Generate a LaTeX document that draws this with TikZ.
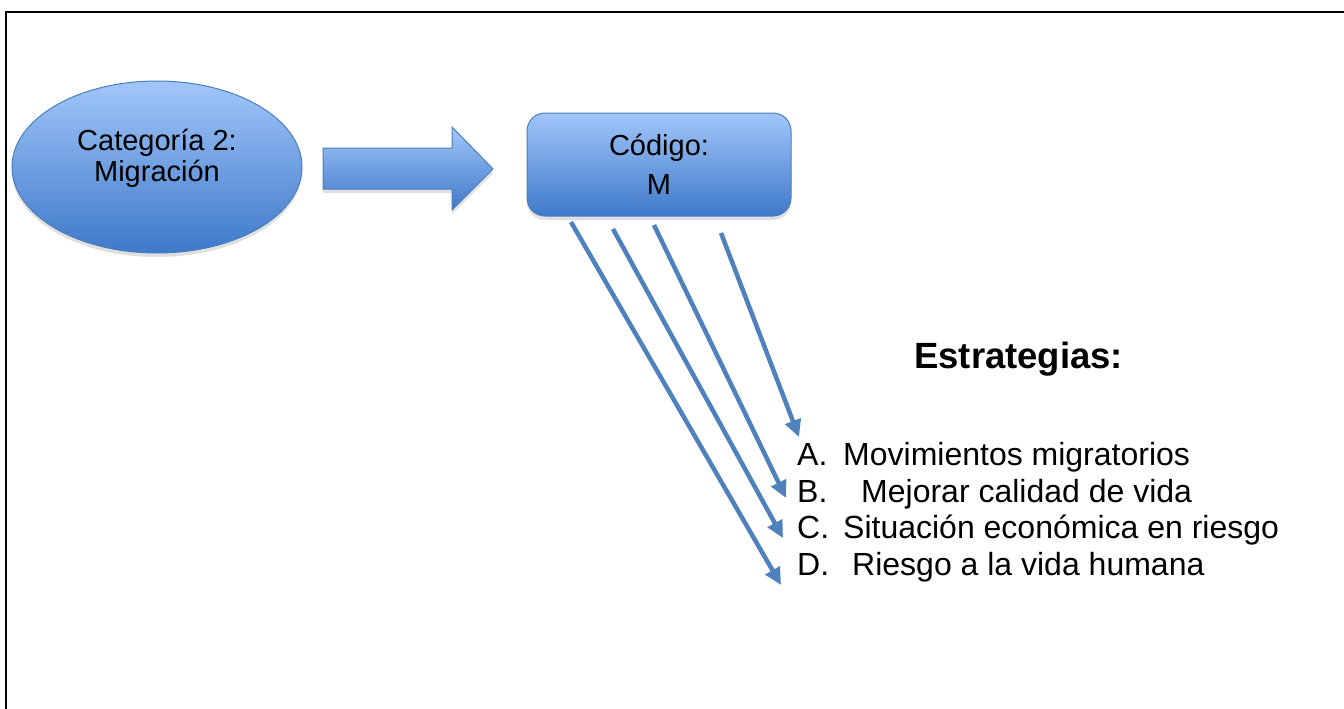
\documentclass[tikz,border=0pt]{standalone}
\usepackage{fontspec}
\setmainfont{Liberation Sans}
\usetikzlibrary{arrows.meta,shadows,shapes.geometric}
\definecolor{blueTop}{HTML}{A2C6FA}
\definecolor{blueBot}{HTML}{3E79C9}
\definecolor{blueEdge}{HTML}{4A7EBB}
\definecolor{lineBlue}{HTML}{4F81BD}
\tikzset{
  gradfill/.style={draw=blueEdge, line width=1pt, top color=blueTop, bottom color=blueBot,
    drop shadow={opacity=0.25, shadow xshift=0pt, shadow yshift=-4pt}},
  conn/.style={draw=lineBlue, line width=4.5pt,
    -{Triangle[length=17pt,width=16pt]}},
  lbl/.style={anchor=base west, inner sep=0pt, font=\fontsize{32}{37}\selectfont},
}
\begin{document}
\begin{tikzpicture}[x=1pt,y=-1pt]
\useasboundingbox (0,0) rectangle (1344,709);
\fill[white] (0,0) rectangle (1344,709);
% frame (top and left edges)
\draw[line width=2.2pt] (6,709) -- (6,12) -- (1344,12);
% ellipse
\node[ellipse, gradfill, minimum width=290pt, minimum height=172pt, inner sep=0pt] (cat) at (157,167) {};
\node[font=\fontsize{29}{31}\selectfont, align=center, inner sep=0pt] (cattxt) at ([yshift=9pt]cat.center) {Categoría 2:\\Migración};
% block arrow
\path[gradfill] (323,148) -- (452,148) -- (452,127) -- (493,169) -- (452,210) -- (452,189) -- (323,189) -- cycle;
\coordinate (barrow) at (408,169);
% code box
\node[gradfill, rounded corners=18pt, minimum width=264pt, minimum height=103pt, inner sep=0pt,
  font=\fontsize{29}{39}\selectfont, align=center] (code) at (659,164.5) {Código:\\M};
% strategies title
\node[anchor=base west, inner sep=0pt, font=\fontsize{36.5}{40}\selectfont\bfseries] (title) at (914,368) {Estrategias:};
% list
\node[lbl] (la) at (797,465) {A.};
\node[lbl] (ta) at (843,465) {Movimientos migratorios};
\node[lbl] (lb) at (797,502) {B.};
\node[lbl] (tb) at (861,502) {Mejorar calidad de vida};
\node[lbl] (lc) at (797,538) {C.};
\node[lbl] (tc) at (843,538) {Situación económica en riesgo};
\node[lbl] (ld) at (797,575) {D.};
\node[lbl] (td) at (852,575) {Riesgo a la vida humana};
% connector endpoints
\coordinate (sa) at (721,233); \coordinate (ea) at (799,437);
\coordinate (sb) at (654,225); \coordinate (eb) at (786,498);
\coordinate (sc) at (613,229); \coordinate (ec) at (783,538);
\coordinate (sd) at (571,222); \coordinate (ed) at (781,585);
\draw[conn] (sa) -- (ea);
\draw[conn] (sb) -- (eb);
\draw[conn] (sc) -- (ec);
\draw[conn] (sd) -- (ed);
\end{tikzpicture}
\end{document}
